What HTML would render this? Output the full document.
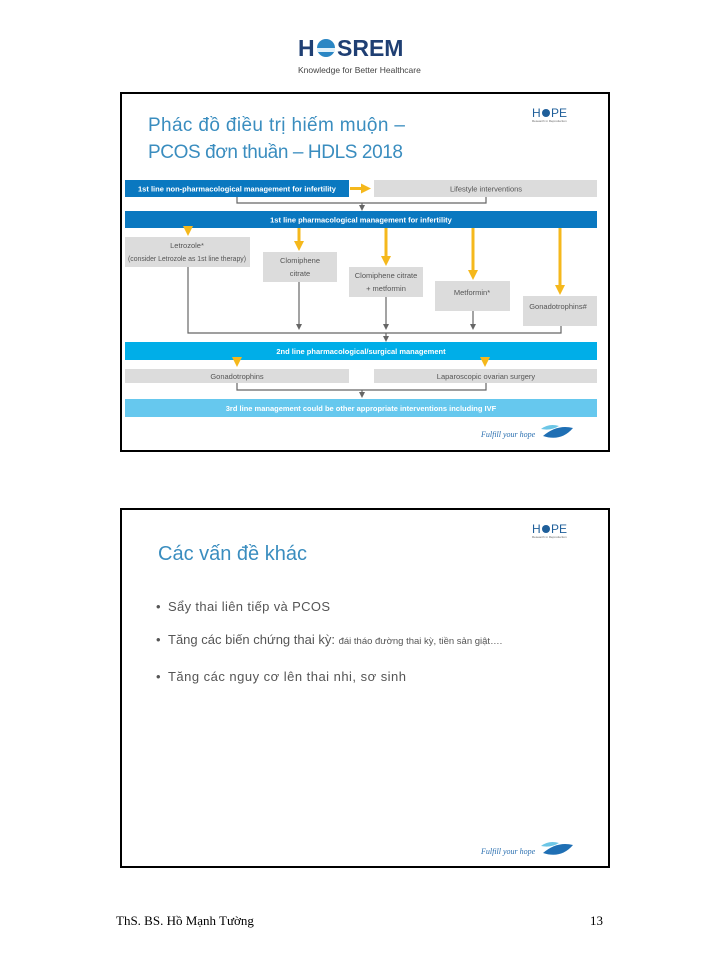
<!DOCTYPE html>
<html><head><meta charset="utf-8"><style>
body{margin:0;background:#fff}
svg{display:block}
.c{font-family:"Liberation Sans Narrow","Liberation Sans",sans-serif;font-size:7.5px}
</style></head><body>
<svg width="720" height="960" viewBox="0 0 720 960" xmlns="http://www.w3.org/2000/svg">
<defs>
<marker id="g" markerWidth="6" markerHeight="6" refX="3" refY="3" orient="auto" markerUnits="userSpaceOnUse"><path d="M0,0 L6,3 L0,6z" fill="#666"/></marker>
<marker id="y" markerWidth="10" markerHeight="10" refX="5" refY="5" orient="auto" markerUnits="userSpaceOnUse"><path d="M0,0 L10,5 L0,10z" fill="#f5b81c"/></marker>
</defs>
<!-- header logo -->
<text x="298" y="56" font-family="Liberation Sans,sans-serif" font-weight="bold" font-size="23" fill="#1f3f73">H</text>
<circle cx="326" cy="48" r="9" fill="#2a86c4"/><rect x="317" y="48" width="18" height="4" fill="#dff0fa"/>
<text x="337" y="56" font-family="Liberation Sans,sans-serif" font-weight="bold" font-size="23" fill="#1f3f73">SREM</text>
<text x="298" y="73" font-family="Liberation Sans,sans-serif" font-size="8.5" fill="#444">Knowledge for Better Healthcare</text>

<!-- slide 1 -->
<rect x="121" y="93" width="488" height="358" fill="#fff" stroke="#000" stroke-width="2"/>
<text x="148" y="131" font-family="Liberation Sans,sans-serif" font-size="19" fill="#3a8dbf" textLength="257">Phác đồ điều trị hiếm muộn –</text>
<text x="148" y="158" font-family="Liberation Sans,sans-serif" font-size="19" fill="#3a8dbf" textLength="255">PCOS đơn thuần – HDLS 2018</text>
<text x="532" y="117" font-family="Liberation Sans,sans-serif" font-size="12" fill="#1f5f9a">H</text><circle cx="546" cy="113" r="4" fill="#1f5f9a"/><text x="551" y="117" font-family="Liberation Sans,sans-serif" font-size="12" fill="#1f5f9a">PE</text>
<text x="532" y="122" font-family="Liberation Sans,sans-serif" font-size="3" fill="#666">Research in Reproduction</text>

<rect x="125" y="180" width="224" height="17" fill="#0a78c0"/>
<text x="237" y="191.5" class="c" font-weight="bold" fill="#fff" text-anchor="middle">1st line non-pharmacological management for infertility</text>
<line x1="350" y1="188.5" x2="366" y2="188.5" stroke="#f5b81c" stroke-width="3" marker-end="url(#y)"/>
<rect x="374" y="180" width="223" height="17" fill="#dcdcdc"/>
<text x="486" y="191.5" class="c" fill="#555" text-anchor="middle">Lifestyle interventions</text>
<path d="M237,197 V203 H486 V197" fill="none" stroke="#666" stroke-width="1.2"/>
<line x1="362" y1="203" x2="362" y2="208" stroke="#666" stroke-width="1.2" marker-end="url(#g)"/>

<rect x="125" y="211" width="472" height="17" fill="#0a78c0"/>
<text x="361" y="222.5" class="c" font-weight="bold" fill="#fff" text-anchor="middle">1st line pharmacological management for infertility</text>

<g stroke="#f5b81c" stroke-width="3">
<line x1="188" y1="228" x2="188" y2="231" marker-end="url(#y)"/>
<line x1="299" y1="228" x2="299" y2="246" marker-end="url(#y)"/>
<line x1="386" y1="228" x2="386" y2="261" marker-end="url(#y)"/>
<line x1="473" y1="228" x2="473" y2="275" marker-end="url(#y)"/>
<line x1="560" y1="228" x2="560" y2="290" marker-end="url(#y)"/>
</g>
<g fill="#dcdcdc">
<rect x="125" y="237" width="125" height="30"/>
<rect x="263" y="252" width="74" height="30"/>
<rect x="349" y="267" width="74" height="30"/>
<rect x="435" y="281" width="75" height="30"/>
<rect x="523" y="296" width="74" height="30"/>
</g>
<g class="c" fill="#555" text-anchor="middle">
<text x="187" y="248">Letrozole*</text>
<text x="187" y="261" textLength="118" lengthAdjust="spacingAndGlyphs">(consider Letrozole as 1st line therapy)</text>
<text x="300" y="263">Clomiphene</text>
<text x="300" y="276">citrate</text>
<text x="386" y="278">Clomiphene citrate</text>
<text x="386" y="291">+ metformin</text>
<text x="472" y="295">Metformin*</text>
<text x="558" y="309">Gonadotrophins#</text>
</g>
<g stroke="#666" stroke-width="1.2" fill="none">
<path d="M188,267 V333 H561 V326"/>
<line x1="299" y1="282" x2="299" y2="327" marker-end="url(#g)"/>
<line x1="386" y1="297" x2="386" y2="327" marker-end="url(#g)"/>
<line x1="473" y1="311" x2="473" y2="327" marker-end="url(#g)"/>
<line x1="386" y1="333" x2="386" y2="339" marker-end="url(#g)"/>
</g>
<rect x="125" y="342" width="472" height="18" fill="#00aee8"/>
<text x="361" y="354" class="c" font-weight="bold" fill="#fff" text-anchor="middle">2nd line pharmacological/surgical management</text>
<g stroke="#f5b81c" stroke-width="3">
<line x1="237" y1="360" x2="237" y2="362" marker-end="url(#y)"/>
<line x1="485" y1="360" x2="485" y2="362" marker-end="url(#y)"/>
</g>
<rect x="125" y="369" width="224" height="14" fill="#dcdcdc"/>
<rect x="374" y="369" width="223" height="14" fill="#dcdcdc"/>
<text x="237" y="379" class="c" fill="#555" text-anchor="middle">Gonadotrophins</text>
<text x="486" y="379" class="c" fill="#555" text-anchor="middle">Laparoscopic ovarian surgery</text>
<path d="M237,383 V390 H486 V383" fill="none" stroke="#666" stroke-width="1.2"/>
<line x1="362" y1="390" x2="362" y2="395" stroke="#666" stroke-width="1.2" marker-end="url(#g)"/>
<rect x="125" y="399" width="472" height="18" fill="#66c8ee"/>
<text x="361" y="411" class="c" font-weight="bold" fill="#fff" text-anchor="middle">3rd line management could be other appropriate interventions including IVF</text>

<text x="481" y="437" font-family="Liberation Serif,serif" font-style="italic" font-size="8" fill="#2a6fb0">Fulfill your hope</text>
<path d="M541,429 q8,-6 18,-3 q-8,5 -18,3z" fill="#6cc6e6"/>
<path d="M543,436 q14,-12 30,-8 q-12,14 -30,8z" fill="#1f6fb4"/>

<!-- slide 2 -->
<rect x="121" y="509" width="488" height="358" fill="#fff" stroke="#000" stroke-width="2"/>
<text x="532" y="533" font-family="Liberation Sans,sans-serif" font-size="12" fill="#1f5f9a">H</text><circle cx="546" cy="529" r="4" fill="#1f5f9a"/><text x="551" y="533" font-family="Liberation Sans,sans-serif" font-size="12" fill="#1f5f9a">PE</text>
<text x="532" y="538" font-family="Liberation Sans,sans-serif" font-size="3" fill="#666">Research in Reproduction</text>
<text x="158" y="560" font-family="Liberation Sans,sans-serif" font-size="20" fill="#3a8dbf">Các vấn đề khác</text>
<g font-family="Liberation Sans,sans-serif" font-size="13" fill="#555">
<text x="156" y="611">•</text><text x="168" y="611" textLength="162">Sẩy thai liên tiếp và PCOS</text>
<text x="156" y="644">•</text><text x="168" y="644">Tăng các biến chứng thai kỳ: <tspan font-size="9.5">đái tháo đường thai kỳ, tiền sản giật….</tspan></text>
<text x="156" y="681">•</text><text x="168" y="681" textLength="238">Tăng các nguy cơ lên thai nhi, sơ sinh</text>
</g>
<text x="481" y="854" font-family="Liberation Serif,serif" font-style="italic" font-size="8" fill="#2a6fb0">Fulfill your hope</text>
<path d="M541,846 q8,-6 18,-3 q-8,5 -18,3z" fill="#6cc6e6"/>
<path d="M543,853 q14,-12 30,-8 q-12,14 -30,8z" fill="#1f6fb4"/>

<!-- footer -->
<text x="116" y="925" font-family="Liberation Serif,serif" font-size="13" fill="#000">ThS. BS. Hồ Mạnh Tường</text>
<text x="603" y="925" font-family="Liberation Serif,serif" font-size="13" fill="#000" text-anchor="end">13</text>
</svg>
</body></html>
